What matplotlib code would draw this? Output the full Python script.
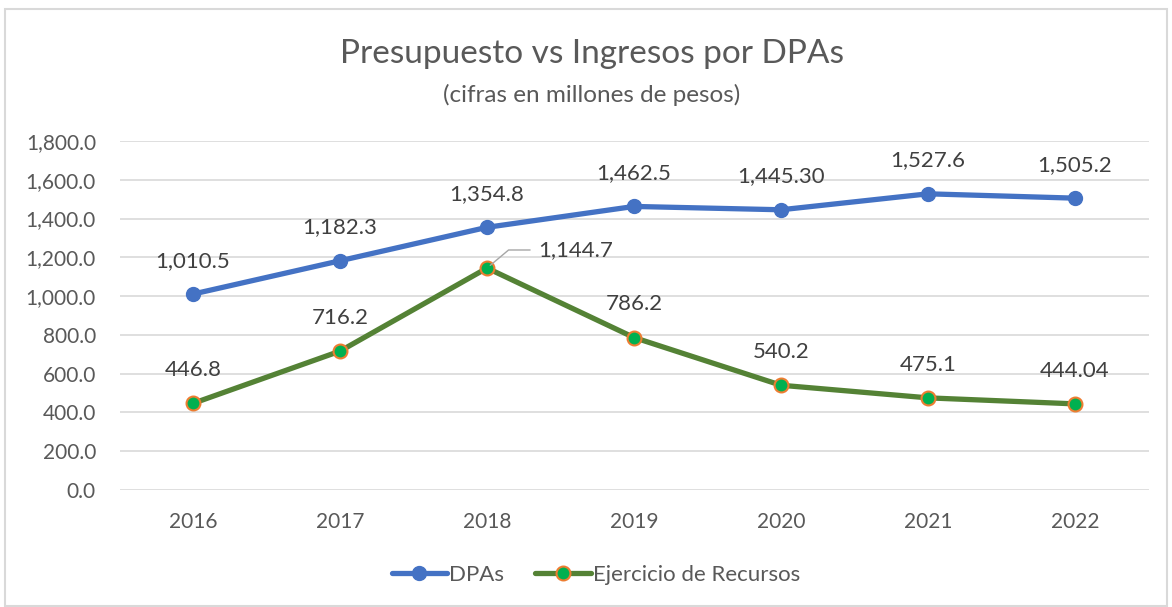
import matplotlib
matplotlib.use('Agg')
from matplotlib import pyplot
from matplotlib.patches import Rectangle

years = ['2016', '2017', '2018', '2019', '2020', '2021', '2022']
dpas = [1010.5, 1182.3, 1354.8, 1462.5, 1445.30, 1527.6, 1505.2]
dpas_labels = ['1,010.5', '1,182.3', '1,354.8', '1,462.5', '1,445.30', '1,527.6', '1,505.2']
ejercicio = [446.8, 716.2, 1144.7, 786.2, 540.2, 475.1, 444.04]
ejercicio_labels = ['446.8', '716.2', '1,144.7', '786.2', '540.2', '475.1', '444.04']
yticks = [0, 200, 400, 600, 800, 1000, 1200, 1400, 1600, 1800]

pyplot.rcParams['font.family'] = ['Lato', 'DejaVu Sans']

fig = pyplot.figure(figsize=(11.72, 6.07), dpi=100)
fig.patch.set_facecolor('white')
fig.patches.append(Rectangle((5 / 1172, 0.002), 1162 / 1172, 1 - 10 / 607,
                             transform=fig.transFigure, fill=False,
                             edgecolor='#D9D9D9', linewidth=1.5))

ax = fig.add_axes([0.102, 0.1928, 0.878, 0.5749])
x = list(range(len(years)))

ax.plot(x, dpas, color='#4472C4', linewidth=3.8, marker='o', markersize=10,
        markerfacecolor='#4472C4', markeredgecolor='#4472C4', label='DPAs',
        solid_capstyle='round', zorder=3)
ax.plot(x, ejercicio, color='#548235', linewidth=3.8, marker='o', markersize=10,
        markerfacecolor='#00B050', markeredgecolor='#ED7D31', markeredgewidth=1.5,
        label='Ejercicio de Recursos', solid_capstyle='round', zorder=3)

for i, lab in enumerate(dpas_labels):
    ax.annotate(lab, (x[i], dpas[i]), xytext=(0, 24), textcoords='offset points',
                ha='center', va='center', fontsize=16, color='#404040')
for i, lab in enumerate(ejercicio_labels):
    if i == 2:
        # 2018 label sits to the right with a leader line
        ax.annotate(lab, (x[i], ejercicio[i]), xytext=(37, 13), textcoords='offset points',
                    ha='left', va='center', fontsize=16, color='#404040',
                    arrowprops=dict(arrowstyle='-', color='#A6A6A6', lw=1,
                                    shrinkA=4, shrinkB=3,
                                    connectionstyle='angle,angleA=0,angleB=40,rad=0'))
    else:
        ax.annotate(lab, (x[i], ejercicio[i]), xytext=(0, 24), textcoords='offset points',
                    ha='center', va='center', fontsize=16, color='#404040')

ax.set_xlim(-0.5, len(years) - 0.5)
ax.set_ylim(0, 1800)
ax.set_xticks(x)
ax.set_xticklabels(years)
ax.set_yticks(yticks)
ax.set_yticklabels(['{:,.1f}'.format(v) for v in yticks])
ax.tick_params(axis='both', length=0, labelsize=15, labelcolor='#595959')
ax.tick_params(axis='x', pad=16)
ax.tick_params(axis='y', pad=17)
ax.grid(axis='y', color='#D9D9D9', linewidth=1.2)
ax.set_axisbelow(True)
for s in ax.spines.values():
    s.set_visible(False)

fig.text(0.505, 1 - 54 / 607, 'Presupuesto vs Ingresos por DPAs', ha='center', va='center',
         fontsize=24, color='#595959')
fig.text(0.505, 1 - 95 / 607, '(cifras en millones de pesos)', ha='center', va='center',
         fontsize=17.5, color='#595959')

ax.legend(loc='center', bbox_to_anchor=(596 / 1172, 1 - 575 / 607),
          bbox_transform=fig.transFigure, ncol=2, frameon=False, fontsize=16,
          labelcolor='#595959', handlelength=2.5, handletextpad=0.1, columnspacing=1.4)

pyplot.savefig('out.png', dpi=100)
